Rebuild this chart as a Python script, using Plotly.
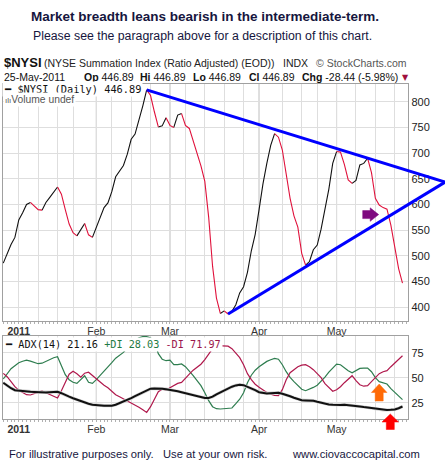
import pandas as pd
import plotly.graph_objects as go

W, H = 445, 473

# ---------------- data ----------------
HOLIDAYS = ["2011-01-17", "2011-02-21", "2011-04-22"]
trade_dates = [d for d in pd.bdate_range("2010-12-28", "2011-05-25")
               if d.strftime("%Y-%m-%d") not in HOLIDAYS]

nysi = [486, 505, 522, 536, 570, 584, 600, 604, 597, 590,
        589, 604, 614, 624, 634, 620, 590, 562, 545, 539,
        550, 563, 541, 536, 555, 577, 594, 603, 625, 654,
        665, 676, 698, 727, 737, 762, 792, 823, 812, 780,
        751, 753, 769, 754, 750, 774, 777, 754, 748, 725,
        698, 675, 645, 575, 480, 418, 388, 393, 387, 392,
        405, 428, 440, 468, 510, 542, 590, 640, 680, 715,
        738, 731, 706, 660, 612, 578, 556, 505, 482, 489,
        512, 521, 552, 590, 630, 680, 703, 702, 678, 648,
        641, 647, 677, 680, 690, 662, 612, 599, 594, 591,
        560, 515, 475.33, 446.89]

adx = [45, 42, 39.5, 37.5, 37, 36.5, 36.3, 36, 35.8, 35.5,
       35.3, 35.3, 35.5, 35.8, 36, 34.5, 32.5, 31, 29.5, 28,
       26.5, 25.3, 24, 23, 22.5, 22, 22, 22, 22, 23,
       24.5, 26, 27.5, 29.5, 31.5, 33.5, 35.5, 37.5, 39, 39.3,
       39.3, 39, 38.5, 38, 37.5, 36.5, 35.5, 34.5, 33.5, 32.5,
       31, 30, 29.7, 29.7, 31, 33.3, 35.3, 37.5, 39.5, 41,
       42.3, 43, 42.5, 41, 39.5, 37.5, 35.5, 34.8, 34.3, 34.5,
       35, 35, 34, 33, 31.5, 30, 28.5, 27.5, 27.3, 27.2,
       27, 26, 25, 24, 23.3, 23, 22.7, 22.8, 23, 22.7,
       22.3, 21.8, 21.3, 20.7, 20.2, 19.5, 18.7, 18.2, 17.8, 17.7,
       17.9, 18.3, 19.5, 21.16]

plus_di = [48.7, 54, 59, 62, 65, 66.5, 67.5, 66.5, 65, 64,
           64.5, 66.5, 68.7, 70, 71, 61, 53, 48, 45.5, 44.3,
           48, 52, 45.5, 44.3, 48, 52, 56, 60, 65, 69.5,
           72.5, 75.3, 79.5, 84, 87.5, 90, 91, 91, 90, 86,
           74, 68.5, 67, 67.5, 63, 63, 63.7, 61, 57, 52,
           47, 42, 35, 27, 21, 19, 18.7, 19, 19.3, 19.7,
           24, 28.5, 35, 45, 52.5, 57.5, 61, 64, 66.3, 68,
           69.3, 68.5, 63, 56, 50.3, 46, 42, 38.5, 37, 38.5,
           40.3, 42.5, 46, 50.5, 55.5, 60, 63.5, 63, 60, 57,
           55, 57, 59.3, 59.5, 59.7, 56, 50, 46, 44.5, 43.7,
           39, 35, 31, 28.03]

minus_di = [54.3, 51, 46, 41, 37.5, 35, 33, 32.7, 34, 35.5,
            36.7, 35, 33.3, 31.5, 29.7, 37, 46, 53.5, 56.5, 54,
            50.5, 54.5, 55.5, 52, 48.5, 45.3, 42.5, 40, 36, 33,
            31, 29, 26.5, 24.5, 23, 20.5, 18, 15.3, 21, 29,
            36, 38.5, 37.5, 40, 42.5, 44.3, 45.3, 49, 53.5, 57.5,
            60.3, 63.5, 68, 73.5, 79, 82, 82, 82, 81.5, 79,
            75, 70, 63, 54, 48, 43.5, 40.5, 37.5, 35.3, 33.5,
            32.3, 32, 38, 48, 55, 58, 61, 62.5, 63, 61,
            58, 54, 50, 44, 40, 36.5, 38, 41, 45, 49,
            52, 47, 43, 41.5, 42, 46, 50, 54, 56, 57,
            61, 65, 68.5, 71.97]

month_labels = ["<b>2011</b>", "Feb", "Mar", "Apr", "May"]
nysi_ticks = [400, 450, 500, 550, 600, 650, 700, 750, 800]
adx_ticks = [25, 50, 75]

# trendlines (trading-day index, index value)
trend_upper_x = [37, 114.0]
trend_upper_y = [823, 643.6]
trend_lower_x = [58, 114.0]
trend_lower_y = [387, 643.6]

n = len(trade_dates)
for arr in (nysi, adx, plus_di, minus_di):
    assert len(arr) == n, len(arr)

xs = list(range(n))
hover_dates = [d.strftime("%d-%b-%Y") for d in trade_dates]

# month starts & weekly grid
month_idx = [i for i in range(1, n) if trade_dates[i].month != trade_dates[i - 1].month]
week_idx = [i for i in range(1, n) if trade_dates[i].weekday() < trade_dates[i - 1].weekday()]
week_idx = [i for i in week_idx if i in month_idx or all(abs(i - m) > 1 for m in month_idx)]
grid_vals = sorted(set(week_idx + month_idx))
grid_text = [month_labels[month_idx.index(v)] if v in month_idx else "" for v in grid_vals]

# ---------------- geometry (pixels) ----------------
PL, PR = 2.5, 408.3
MT, MB = 84, 321
AT, AB = 336, 419


def fx(p):
    return p / W


def fy(p):
    return 1 - p / H


XR = [-0.2, 104.5]
YR_MAIN = [373.3, 834.5]
YR_ADX = [8.7, 91.7]
X3R = [XR[0], XR[0] + (XR[1] - XR[0]) * (1 - fx(PL)) / (fx(PR) - fx(PL))]

# ---------------- traces ----------------
def segments(vals, cond):
    sx, sy = [], []
    last = None
    for i in range(len(vals) - 1):
        if cond(vals[i], vals[i + 1]):
            if last != i:
                if sx:
                    sx.append(None); sy.append(None)
                sx.append(i); sy.append(vals[i])
            sx.append(i + 1); sy.append(vals[i + 1])
            last = i + 1
    return sx, sy


fig = go.Figure()
ux, uy = segments(nysi, lambda a, b: b >= a)
dx, dy = segments(nysi, lambda a, b: b < a)
fig.add_trace(go.Scatter(x=ux, y=uy, mode="lines", line=dict(color="#111111", width=1.1),
                         xaxis="x", yaxis="y", hoverinfo="skip"))
fig.add_trace(go.Scatter(x=dx, y=dy, mode="lines", line=dict(color="#E0123C", width=1.1),
                         xaxis="x", yaxis="y", hoverinfo="skip"))

fig.add_trace(go.Scatter(x=xs, y=plus_di, mode="lines", line=dict(color="#2E7D4F", width=1.2),
                         xaxis="x2", yaxis="y2", text=hover_dates))
fig.add_trace(go.Scatter(x=xs, y=minus_di, mode="lines", line=dict(color="#B0184C", width=1.2),
                         xaxis="x2", yaxis="y2", text=hover_dates))
fig.add_trace(go.Scatter(x=xs, y=adx, mode="lines", line=dict(color="#d4d4d4", width=3.2),
                         xaxis="x2", yaxis="y2", hoverinfo="skip"))
fig.add_trace(go.Scatter(x=xs, y=adx, mode="lines", line=dict(color="#111111", width=2),
                         xaxis="x2", yaxis="y2", text=hover_dates))

fig.add_trace(go.Scatter(x=trend_upper_x, y=trend_upper_y, mode="lines",
                         line=dict(color="#0000FF", width=3), xaxis="x3", yaxis="y3"))
fig.add_trace(go.Scatter(x=trend_lower_x, y=trend_lower_y, mode="lines",
                         line=dict(color="#0000FF", width=3), xaxis="x3", yaxis="y3"))

# ---------------- axes ----------------
TICKFONT = dict(family="Liberation Sans, Arial", size=10.5, color="#333333")


def xaxis_common(anchor):
    return dict(range=XR, domain=[fx(PL), fx(PR)], anchor=anchor,
                tickmode="array", tickvals=grid_vals, ticktext=grid_text, ticks="",
                showgrid=True, gridcolor="#dedede", gridwidth=1, zeroline=False,
                showline=True, mirror=True, linecolor="#a0a0a0", linewidth=1,
                tickfont=TICKFONT, fixedrange=True,
                minor=dict(tickmode="linear", tick0=0, dtick=1, ticks="outside",
                           ticklen=2, tickcolor="#b0b0b0", showgrid=False))


def yaxis_common(rng, dom, vals, anchor):
    return dict(range=rng, domain=dom, anchor=anchor, side="right",
                tickmode="array", tickvals=vals, ticks="",
                showgrid=True, gridcolor="#dedede", gridwidth=1, zeroline=False,
                showline=True, mirror=True, linecolor="#a0a0a0", linewidth=1,
                tickfont=dict(family="Liberation Sans, Arial", size=11, color="#222222"),
                fixedrange=True)


layout = dict(
    width=W, height=H, autosize=False,
    margin=dict(l=0, r=0, t=0, b=0),
    paper_bgcolor="white", plot_bgcolor="rgba(0,0,0,0)",
    showlegend=False,
    xaxis=xaxis_common("y"),
    yaxis=yaxis_common(YR_MAIN, [fy(MB), fy(MT)], nysi_ticks, "x"),
    xaxis2=xaxis_common("y2"),
    yaxis2=yaxis_common(YR_ADX, [fy(AB), fy(AT)], adx_ticks, "x2"),
    xaxis3=dict(range=X3R, domain=[fx(PL), 1.0], anchor="y3", visible=False, fixedrange=True),
    yaxis3=dict(range=YR_MAIN, domain=[fy(MB), fy(MT)], anchor="x3", visible=False, fixedrange=True),
)
fig.update_layout(**layout)

# darker month gridlines
shapes = []
for m in month_idx[1:]:
    for xr_, yr_ in (("x", "y domain"), ("x2", "y2 domain")):
        shapes.append(dict(type="line", xref=xr_, yref=yr_, x0=m, x1=m, y0=0, y1=1,
                           line=dict(color="#b4b4b4", width=1), layer="below"))


def arrow(tip_x, tip_y, direction, head_len, head_w, body_len, body_w, color):
    if direction == "up":
        pts = [(tip_x, tip_y), (tip_x + head_w / 2, tip_y + head_len),
               (tip_x + body_w / 2, tip_y + head_len), (tip_x + body_w / 2, tip_y + head_len + body_len),
               (tip_x - body_w / 2, tip_y + head_len + body_len), (tip_x - body_w / 2, tip_y + head_len),
               (tip_x - head_w / 2, tip_y + head_len)]
    else:  # right
        pts = [(tip_x, tip_y), (tip_x - head_len, tip_y - head_w / 2),
               (tip_x - head_len, tip_y - body_w / 2), (tip_x - head_len - body_len, tip_y - body_w / 2),
               (tip_x - head_len - body_len, tip_y + body_w / 2), (tip_x - head_len, tip_y + body_w / 2),
               (tip_x - head_len, tip_y + head_w / 2)]
    path = "M " + " L ".join(f"{fx(px):.5f},{fy(py):.5f}" for px, py in pts) + " Z"
    return dict(type="path", xref="paper", yref="paper", path=path,
                fillcolor=color, line=dict(color=color, width=0.5), layer="above")


shapes.append(arrow(378.7, 214.6, "right", 8.5, 13.5, 7.5, 8, "#7E0A7E"))
shapes.append(arrow(379.2, 384.0, "up", 8.5, 15.5, 8.5, 8, "#FF6A06"))
shapes.append(arrow(390.3, 414.0, "up", 8.0, 16.5, 7.5, 8, "#FF0000"))
fig.update_layout(shapes=shapes)

# ---------------- texts ----------------
NAVY = "#16163e"
SANS = "Liberation Sans, Arial, sans-serif"
MONO = "DejaVu Sans Mono, monospace"
ann = []


def text(x, y, s, size, family=SANS, color="#111111", anchor="left", bg=None):
    d = dict(x=fx(x), y=fy(y), xref="paper", yref="paper", text=s, showarrow=False,
             xanchor=anchor, yanchor="middle", font=dict(family=family, size=size, color=color),
             borderpad=1)
    if bg:
        d["bgcolor"] = bg
    ann.append(d)


last = nysi[-1]
chg = nysi[-1] - nysi[-2]
pct = chg / nysi[-2] * 100

text(205, 16, "<b>Market breadth leans bearish in the intermediate-term.</b>", 13.5, color=NAVY, anchor="center")
text(202.5, 36, "Please see the paragraph above for a description of this chart.", 12.3, color=NAVY, anchor="center")

text(1.5, 62.5, "<b>$NYSI</b>", 13, color="#111111")
text(42, 62.5, "(NYSE Summation Index (Ratio Adjusted) (EOD))", 10.5, color="#222222")
text(280.5, 62.5, "INDX", 10.5, color="#222222")
text(408.5, 62.5, "© StockCharts.com", 10.5, color="#555555", anchor="right")

text(1.5, 76.7, trade_dates[-1].strftime("%d-%b-%Y"), 10.5, color="#111111")
ohlc = [("Op", f"{last:.2f}", 81.7), ("Hi", f"{last:.2f}", 138.3), ("Lo", f"{last:.2f}", 190.7),
        ("Cl", f"{last:.2f}", 246.7), ("Chg", f"{chg:.2f} ({pct:.2f}%)", 300)]
for lab, val, xp in ohlc:
    text(xp, 76.7, f"<b>{lab}</b> {val}", 10.5, color="#111111")
text(400, 77, "▼", 8, family="DejaVu Sans", color="#A0103C")

text(2, 89.3, f"━ $NYSI (Daily) {last:.2f}", 10.3, family=MONO, color="#111111", bg="white")
text(3, 99.6, "<span style='font-size:8px;color:#555'>ılı</span>Volume undef", 10.3,
     family=SANS, color="#555555", bg="white")

text(3, 344.3,
     f"━ ADX(14) {adx[-1]:.2f} <span style='color:#1f7a44'>+DI {plus_di[-1]:.2f}</span> "
     f"<span style='color:#9b174c'>-DI {minus_di[-1]:.2f}</span>",
     10.2, family=MONO, color="#111111", bg="white")

text(6.5, 453.5, "For illustrative purposes only.", 11.2, color=NAVY)
text(161, 453.5, "Use at your own risk.", 11.2, color=NAVY)
text(289.5, 453.5, "www.ciovaccocapital.com", 11.2, color=NAVY)

fig.update_layout(annotations=ann)

fig.write_html("out.html", config={"displayModeBar": False},
               post_script="document.body.style.margin='0';document.body.style.overflow='hidden';")
